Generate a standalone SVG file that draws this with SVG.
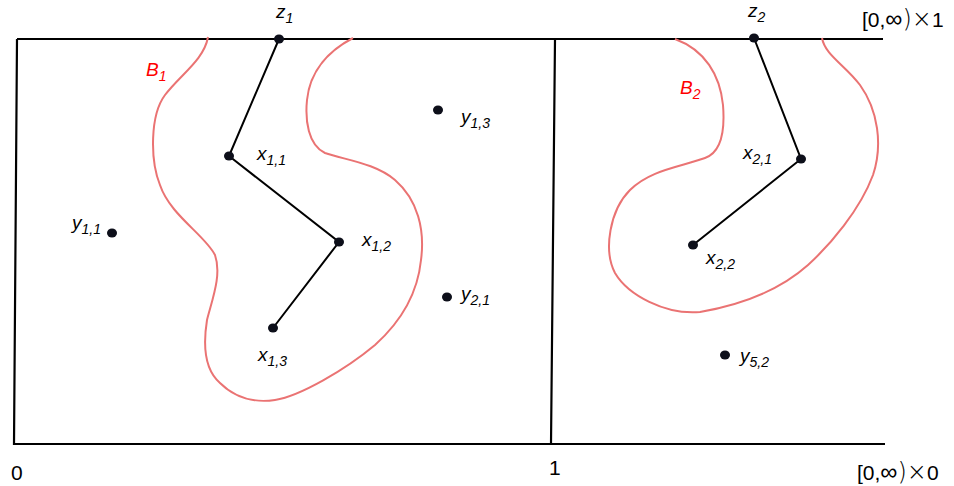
<svg xmlns="http://www.w3.org/2000/svg" width="954" height="486" viewBox="0 0 954 486">
<style>
.frame{stroke:#000;stroke-width:2.2;fill:none}
.edge{stroke:#000;stroke-width:2;fill:none}
.blob{stroke:#ea7373;stroke-width:2;fill:none}
.dot{fill:#0d0f1a}
.lbl{font-family:"Liberation Sans",Arial,sans-serif;font-style:italic;font-size:19px;fill:#000}
.sub{font-size:14px}
.red{fill:#f00}
.ax{font-family:"Liberation Sans",Arial,sans-serif;font-size:21px;fill:#000}
.sym{font-family:"DejaVu Sans",sans-serif;font-weight:200;font-size:24px}
</style>
<rect width="954" height="486" fill="#fff"/>
<g id="frame">
<path class="frame" d="M17,39 L883,39 M17,39 L14,444 L885,444 M555,39 L551,444"/>
</g>
<g id="B1">
<path class="blob" d="M208,37 C204,60 180,75 165,95 C150,115 150,160 160,185 C170,215 205,235 215,255 C222,275 212,300 207,320 C203,345 205,370 220,383 C235,398 255,403 275,400 C300,396 345,370 375,345 C405,318 418,290 421,260 C425,230 418,200 395,180 C375,163 345,160 325,153 C308,145 305,120 307,100 C310,70 330,50 353,38"/>
<text class="lbl red" x="146" y="76">B<tspan class="sub" dy="5">1</tspan></text>
</g>
<g id="B2">
<path class="blob" d="M675,39 C705,50 720,75 723,105 C725,130 722,152 705,158 C680,167 650,170 630,190 C610,210 603,250 615,273 C628,295 665,315 700,312 C740,305 780,290 808,265 C830,245 860,210 873,175 C883,145 878,110 860,85 C845,65 825,55 822,38"/>
<text class="lbl red" x="680" y="94">B<tspan class="sub" dy="5">2</tspan></text>
</g>
<g id="connectors">
<path class="edge" d="M279,39 L229,156 L339,242 L273,328"/>
<path class="edge" d="M754,38 L801,159 L693,245"/>
</g>
<g id="z1"><ellipse class="dot" cx="279" cy="39" rx="5" ry="4.5"/><text class="lbl" x="276" y="18">z<tspan class="sub" dy="5">1</tspan></text></g>
<g id="x11"><ellipse class="dot" cx="229" cy="156" rx="5" ry="4.5"/><text class="lbl" x="257" y="160">x<tspan class="sub" dy="5">1,1</tspan></text></g>
<g id="x12"><ellipse class="dot" cx="339" cy="242" rx="5" ry="4.5"/><text class="lbl" x="362" y="246">x<tspan class="sub" dy="5">1,2</tspan></text></g>
<g id="x13"><ellipse class="dot" cx="273" cy="328" rx="5" ry="4.5"/><text class="lbl" x="258" y="361">x<tspan class="sub" dy="5">1,3</tspan></text></g>
<g id="y11"><ellipse class="dot" cx="112" cy="233" rx="5" ry="4.5"/><text class="lbl" x="72" y="229">y<tspan class="sub" dy="5">1,1</tspan></text></g>
<g id="y13"><ellipse class="dot" cx="438" cy="110" rx="5" ry="4.5"/><text class="lbl" x="461" y="123">y<tspan class="sub" dy="5">1,3</tspan></text></g>
<g id="y21"><ellipse class="dot" cx="447" cy="297" rx="5" ry="4.5"/><text class="lbl" x="461" y="300">y<tspan class="sub" dy="5">2,1</tspan></text></g>
<g id="z2"><ellipse class="dot" cx="754" cy="38" rx="5" ry="4.5"/><text class="lbl" x="748" y="17">z<tspan class="sub" dy="5">2</tspan></text></g>
<g id="x21"><ellipse class="dot" cx="801" cy="159" rx="5" ry="4.5"/><text class="lbl" x="743" y="159">x<tspan class="sub" dy="5">2,1</tspan></text></g>
<g id="x22"><ellipse class="dot" cx="693" cy="245" rx="5" ry="4.5"/><text class="lbl" x="706" y="264">x<tspan class="sub" dy="5">2,2</tspan></text></g>
<g id="y52"><ellipse class="dot" cx="725" cy="355" rx="5" ry="4.5"/><text class="lbl" x="740" y="362">y<tspan class="sub" dy="5">5,2</tspan></text></g>
<g id="axes">
<text class="ax" x="862" y="27">[0,<tspan class="sym">∞)×</tspan>1</text>
<text class="ax" x="11" y="480">0</text>
<text class="ax" x="549" y="475">1</text>
<text class="ax" x="857" y="480">[0,<tspan class="sym">∞)×</tspan>0</text>
</g>
</svg>
